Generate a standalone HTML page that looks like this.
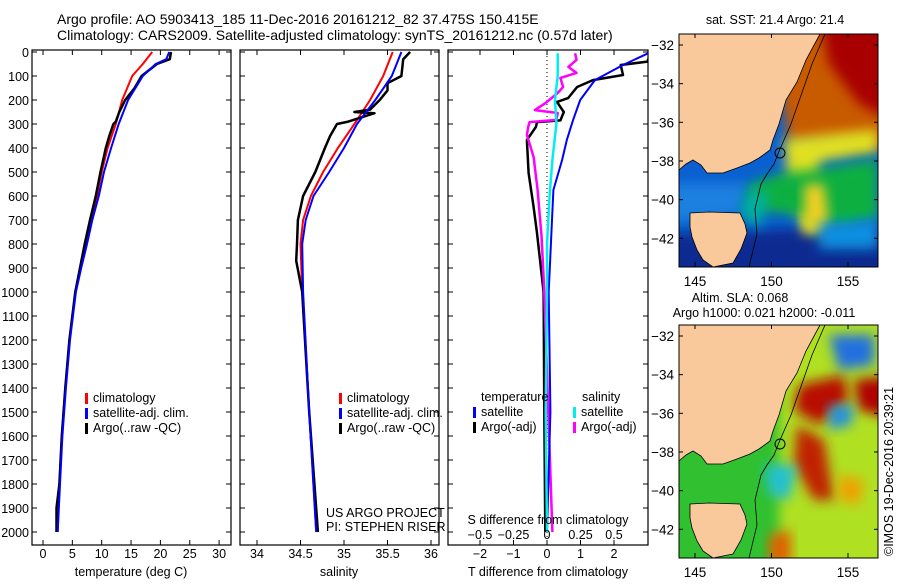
<!DOCTYPE html>
<html><head><meta charset="utf-8">
<style>
body{margin:0;background:#fff;width:900px;height:580px;overflow:hidden;font-family:"Liberation Sans",sans-serif}
svg text{font-family:"Liberation Sans",sans-serif;font-size:12.5px;fill:#000}
</style></head><body>
<svg id="fig" width="900" height="580" viewBox="0 0 900 580" xmlns="http://www.w3.org/2000/svg">
<text x="57" y="24" style="font-size:14px">Argo profile: AO 5903413_185 11-Dec-2016 20161212_82 37.475S 150.415E</text>
<text x="57" y="40" style="font-size:14px">Climatology: CARS2009. Satellite-adjusted climatology: synTS_20161212.nc (0.57d later)</text>
<g id="p1"></g>
<g id="p2"></g>
<g id="p3"></g>
<g id="m1"></g>
<g id="m2"></g>
<text transform="translate(893,556) rotate(-90)" style="font-size:12.5px">©IMOS 19-Dec-2016 20:39:21</text>
</svg>
<script>
// ---- data ----
const tClimDepth=[0,50,100,200,300,400,500,600,700,800,900,1000,1200,1400,1600,1800,2000];
const tClim=[18.6,17,15.2,13.5,12.4,11,10,9.2,8.2,7.3,6.3,5.5,4.5,3.8,3.2,2.8,2.5];
const tSatDepth=[0,30,50,100,200,300,400,500,600,700,800,900,1000,1200,1400,1600,1800,2000];
const tSat=[21.5,21,19.2,17,14.5,12.9,11.6,10.4,9.5,8.4,7.5,6.5,5.6,4.6,3.9,3.3,2.9,2.5];
const tArgoDepth=[0,30,50,100,150,200,250,290,300,350,400,500,600,700,800,900,1000,1200,1400,1600,1800,1900,2000];
const tArgo=[21.8,21.6,19.4,16.8,15.6,14,13,12.4,12.0,11.3,10.7,9.8,9.0,8.0,7.1,6.3,5.5,4.5,3.8,3.2,2.8,2.3,2.3];
const sClimDepth=[0,100,200,300,400,500,600,700,800,1000,1500,2000];
const sClim=[35.56,35.45,35.3,35.12,34.93,34.76,34.62,34.53,34.5,34.52,34.6,34.68];
const sSatDepth=[0,100,200,300,400,500,600,700,800,1000,1500,2000];
const sSat=[35.66,35.55,35.36,35.15,35.0,34.83,34.65,34.56,34.52,34.53,34.6,34.68];
const sArgoDepth=[0,30,100,130,160,200,240,250,255,270,290,300,350,400,500,600,700,800,870,1000,1500,2000];
const sArgo=[35.76,35.68,35.66,35.5,35.5,35.41,35.3,35.12,35.35,35.22,35.05,34.92,34.84,34.78,34.67,34.53,34.47,34.46,34.45,34.52,34.6,34.7];
const dTSatDepth=[0,54,117,200,283,367,450,575,700,1000,1500,2000];
const dTSat=[3.1,2.27,1.43,0.99,0.78,0.59,0.45,0.19,0.15,0.05,0.1,0.0];
const dTArgoDepth=[0,40,54,96,117,146,192,208,250,285,292,312,367,504,646,754,1000,1500,2000];
const dTArgo=[3.1,3.0,2.2,2.27,1.37,0.9,0.63,0.3,0.5,0.4,-0.3,-0.33,-0.6,-0.55,-0.4,-0.3,-0.1,-0.08,-0.05];
const dSArgoDepth=[5,33,62,87,108,146,171,212,242,254,283,292,312,346,437,575,771,1000,1500,2000];
const dSArgo=[0.21,0.22,0.16,0.22,0.1,0.12,0.08,-0.01,-0.09,0.08,0.07,-0.13,-0.14,-0.15,-0.1,-0.07,-0.04,-0.02,0.01,0.04];
const dSSatDepth=[5,100,200,300,400,450,590,800,1000,1500,2000];
const dSSat=[0.08,0.08,0.06,0.07,0.05,0.04,0.02,0.0,0.0,-0.01,0.0];
const depthTicks=[0,100,200,300,400,500,600,700,800,900,1000,1100,1200,1300,1400,1500,1600,1700,1800,1900,2000];
const tTicks=[0,5,10,15,20,25,30];
const sTicks=[34,34.5,35,35.5,36];
const sTickLabels=["34","34.5","35","35.5","36"];
const dTTicks=[-2,-1,0,1,2];
const dSTicks=[-0.5,-0.25,0,0.25,0.5];
const dSTickLabels=["\u22120.5","\u22120.25","0","0.25","0.5"];

const NS="http://www.w3.org/2000/svg";
function el(tag,parent,attrs){const e=document.createElementNS(NS,tag);for(const k in attrs)e.setAttribute(k,attrs[k]);parent.appendChild(e);return e;}
const TOP=52,BOT=545;
const yD=d=>TOP+d*0.24;
function box(g,x0,x1){
  const r=el('rect',g,{x:x0,y:50,width:x1-x0,height:BOT-50,fill:'none',stroke:'#000','stroke-width':1.2});
  
  
  depthTicks.forEach(d=>{
    el('line',g,{x1:x0,x2:x0+5,y1:yD(d),y2:yD(d),stroke:'#000'});
    el('line',g,{x1:x1-5,x2:x1,y1:yD(d),y2:yD(d),stroke:'#000'});
  });
}
function line(g,xs,ds,fx,color,w,name){
  const pts=xs.map((v,i)=>fx(v).toFixed(1)+','+yD(ds[i]).toFixed(1)).join(' ');
  const p=el('polyline',g,{points:pts,fill:'none',stroke:color,'stroke-width':w,'stroke-linejoin':'round'});
  
  
}
function xticks(g,ticks,labels,fx,y,top){
  ticks.forEach((t,i)=>{
    const x=fx(t);
    el('line',g,{x1:x,x2:x,y1:BOT,y2:BOT-5,stroke:'#000'});
    if(top) el('line',g,{x1:x,x2:x,y1:50,y2:55,stroke:'#000'});
    const tx=el('text',g,{x:x,y:y,'text-anchor':'middle'});tx.textContent=labels[i];
    
    
  });
}
function legend(g,x,y,items){
  items.forEach((it,i)=>{
    el('rect',g,{x:x,y:y+i*15-9,width:3,height:11,fill:it[0]});
    const t=el('text',g,{x:x+8,y:y+i*15});t.textContent=it[1];
    
    
  });
}
function txt(g,x,y,s,anchor,name){const t=el('text',g,{x:x,y:y,'text-anchor':anchor||'start'});t.textContent=s;
  
  return t;}

// panel 1
const g1=document.getElementById('p1');
const fT=v=>43+5.87*v;
box(g1,32,231);
depthTicks.forEach(d=>{const t=txt(g1,29,yD(d)+5,String(d),'end','y-tick-label');});
line(g1,tClim,tClimDepth,fT,'#f00',2,'climatology-temp-line');
line(g1,tArgo,tArgoDepth,fT,'#000',2.5,'argo-temp-line');
line(g1,tSat,tSatDepth,fT,'#00f',2,'satellite-temp-line');
xticks(g1,tTicks,tTicks.map(String),fT,558,true);
txt(g1,131,576,'temperature (deg C)','middle','x-axis-title');
legend(g1,85,402,[['#f00','climatology'],['#00f','satellite-adj. clim.'],['#000','Argo(..raw -QC)']]);

// panel 2
const g2=document.getElementById('p2');
const fS=v=>257+87*(v-34);
box(g2,240,439);
line(g2,sClim,sClimDepth,fS,'#f00',2,'climatology-salinity-line');
line(g2,sArgo,sArgoDepth,fS,'#000',2.5,'argo-salinity-line');
line(g2,sSat,sSatDepth,fS,'#00f',2,'satellite-salinity-line');
xticks(g2,sTicks,sTickLabels,fS,558,true);
txt(g2,339,576,'salinity','middle','x-axis-title');
legend(g2,339,402,[['#f00','climatology'],['#00f','satellite-adj. clim.'],['#000','Argo(..raw -QC)']]);
txt(g2,326,517,'US ARGO PROJECT','start','project-label');
txt(g2,326,531,'PI: STEPHEN RISER','start','pi-label');

// panel 3
const g3=document.getElementById('p3');
const fdT=v=>547+33.5*v, fdS=v=>547+134*v;
const cp=el('clipPath',g3,{id:'c3'});el('rect',cp,{x:448,y:50,width:200,height:495});
box(g3,448,648);
el('line',g3,{x1:547,x2:547,y1:52,y2:545,stroke:'#000','stroke-dasharray':'1,3'});
const gc=el('g',g3,{'clip-path':'url(#c3)'});
line(gc,dTArgo,dTArgoDepth,fdT,'#000',2.5,'argo-temp-diff-line');
line(gc,dSArgo,dSArgoDepth,fdS,'#f0f',2.5,'argo-salinity-diff-line');
line(gc,dTSat,dTSatDepth,fdT,'#00f',2,'satellite-temp-diff-line');
line(gc,dSSat,dSSatDepth,fdS,'#0ee',2.5,'satellite-salinity-diff-line');
xticks(g3,dTTicks,dTTicks.map(v=>v<0?'\u2212'+(-v):String(v)),fdT,558,true);
dSTicks.forEach((t,i)=>{const x=fdS(t);const tx=txt(g3,x,539,dSTickLabels[i],'middle','s-tick-label');});
txt(g3,548,524,'S difference from climatology','middle','s-axis-title');
txt(g3,548,576,'T difference from climatology','middle','x-axis-title');
txt(g3,481,401,'temperature','start','legend-header');
txt(g3,582,401,'salinity','start','legend-header');
legend(g3,473,416,[['#00f','satellite'],['#000','Argo(-adj)']]);
legend(g3,573,416,[['#0ee','satellite'],['#f0f','Argo(-adj)']]);

// maps
const lonTicks=[145,150,155], latTicks=[-32,-34,-36,-38,-40,-42];
function pts(arr,x0,y0){return arr.map((v,i)=>i%2? y0+v : x0+v).reduce((a,v,i)=>a+(i%2?','+v+' ':v),'');}
function mapFrame(g,x0,y0,h,shapes){
  const id='cm'+y0;
  const cp=el('clipPath',g,{id:id});el('rect',cp,{x:x0,y:y0,width:199,height:h});
  const gg=el('g',g,{'clip-path':'url(#'+id+')'});
  shapes.forEach(s=>{
    if(s[0]==='r') el('rect',gg,{x:x0+s[1],y:y0+s[2],width:s[3],height:s[4],fill:s[5]});
    else el('polygon',gg,{points:pts(s[1],x0,y0),fill:s[2],filter:s[3]?'url(#blur)':''});
  });
  const land=[141,0,127,26,118,48,107,66,100,90,94,106,91,116,80,124,71,129,58,134,44,139,35,139,28,139,22,131,14,126,7,130,0,136,0,0];
  const lp=el('polygon',gg,{points:pts(land,x0,y0),fill:'#f9c89b',stroke:'#000','stroke-width':0.8});
  
  
  const tas=[11,179,30,178,61,179,66,190,68,199,62,215,54,229,34,233,24,226,18,216,13,203,11,193];
  const tp=el('polygon',gg,{points:pts(tas,x0,y0),fill:'#f9c89b',stroke:'#000','stroke-width':0.8});
  
  
  el('polyline',gg,{points:pts([146,0,133,30,112,90,101,115,95,130,88,140,82,150,76,175,78,200,70,233],x0,y0),fill:'none',stroke:'#000','stroke-width':0.8});
  el('circle',gg,{cx:x0+101,cy:y0+119,r:5,fill:'none',stroke:'#000'});
  const fr=el('rect',g,{x:x0,y:y0,width:199,height:h,fill:'none',stroke:'#000'});
  
  
  lonTicks.forEach(l=>{const x=695+(l-145)*15.3;
    el('line',g,{x1:x,x2:x,y1:y0+h,y2:y0+h-5,stroke:'#000'});el('line',g,{x1:x,x2:x,y1:y0,y2:y0+4,stroke:'#000'});
    const t=el('text',g,{x:x,y:y0+h+19,'text-anchor':'middle',style:'font-size:13.5px'});t.textContent=String(l);
    
    });
  latTicks.forEach(l=>{const y=y0+11+(-32-l)*19.33;
    el('line',g,{x1:x0,x2:x0+4,y1:y,y2:y,stroke:'#000'});el('line',g,{x1:x0+195,x2:x0+199,y1:y,y2:y,stroke:'#000'});
    const t=el('text',g,{x:x0-5,y:y+5,'text-anchor':'end',style:'font-size:13.5px'});t.textContent=String(l).replace('-','\u2212');
    
    });
}
const defs=el('defs',document.getElementById('fig'),{});
const f=el('filter',defs,{id:'blur',x:'-30%',y:'-30%',width:'160%',height:'160%'});el('feGaussianBlur',f,{stdDeviation:6});
const g4=document.getElementById('m1');
mapFrame(g4,679,34,233,[
  ['r',0,0,199,233,'#0a60d0'],
  ['p',[-20,200,220,190,220,260,-20,260],'#0a2a90',1],
  ['p',[-20,150,70,150,60,180,-20,190],'#1a80e0',1],
  ['p',[90,-20,220,-20,220,115,150,110,110,110],'#c85a00',1],
  ['p',[140,-20,220,-20,220,90,180,70,150,30],'#a80000',1],
  ['p',[105,105,150,100,199,95,199,118,140,128,150,200,125,200,108,140],'#e0e020',1],
  ['p',[70,150,100,140,140,135,199,125,199,185,160,195,140,185,110,180,70,175],'#10b040',1],
  ['p',[125,150,145,150,150,190,125,195],'#f0d020',1],
  ['p',[70,155,90,160,80,195,60,180],'#00b0a0',1],
  ['p',[140,190,199,185,199,215,140,215],'#0890e0',1]
]);
const t1=el('text',g4,{x:775,y:24,'text-anchor':'middle'});t1.textContent='sat. SST: 21.4 Argo: 21.4';


const g5=document.getElementById('m2');
mapFrame(g5,679,325,233,[
  ['r',0,0,199,233,'#30c030'],
  ['p',[100,-20,220,-20,220,260,100,260],'#b0e020',1],
  ['p',[120,60,165,50,170,75,140,100,115,85],'#b81000',1],
  ['p',[175,55,220,50,220,95,180,85],'#b00000',1],
  ['p',[118,100,145,115,155,175,135,175,115,140],'#c02000',1],
  ['p',[150,10,195,10,195,40,160,45],'#2070e0',1],
  ['p',[150,80,175,80,172,100,150,105],'#2090e0',1],
  ['p',[85,140,118,140,110,175,90,170],'#20c0d0',1],
  ['p',[90,210,112,205,112,240,90,240],'#e06000',1],
  ['p',[160,150,185,155,180,180,160,175],'#f0a000',1]
]);
const t2=el('text',g5,{x:740,y:302,'text-anchor':'middle'});t2.textContent='Altim. SLA: 0.068';


const t3=el('text',g5,{x:764,y:317,'text-anchor':'middle'});t3.textContent='Argo h1000: 0.021 h2000: -0.011';


</script>
</body></html>
